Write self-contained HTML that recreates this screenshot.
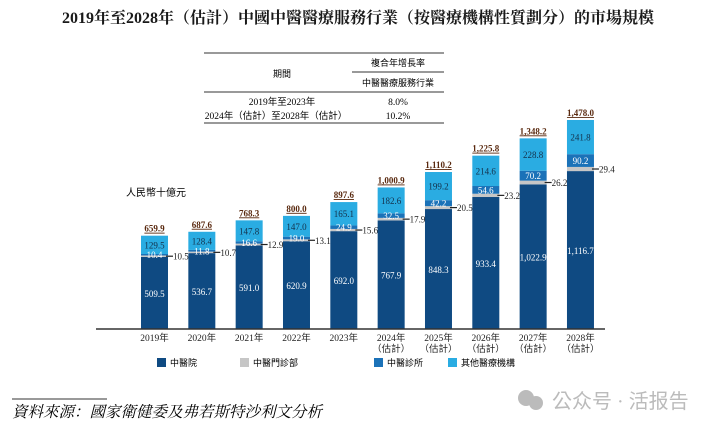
<!DOCTYPE html>
<html><head><meta charset="utf-8"><style>
body{margin:0;width:716px;height:429px;background:#fff;overflow:hidden;font-family:"Liberation Serif","Noto Serif CJK SC","Noto Sans CJK TC",serif;color:#222}
svg text{font-family:"Liberation Serif","Noto Sans CJK TC",serif}
</style></head><body>
<svg id="c" width="716" height="429">
<text x="358" y="23" text-anchor="middle" font-size="16" font-weight="bold" fill="#1a1a1a" style="font-family:'Liberation Serif','Noto Serif CJK SC',serif">2019年至2028年（估計）中國中醫醫療服務行業（按醫療機構性質劃分）的市場規模</text>
<g font-size="9.5">
<line x1="204" y1="53" x2="444" y2="53" stroke="#333"/>
<line x1="352" y1="72" x2="444" y2="72" stroke="#333"/>
<line x1="204" y1="92" x2="444" y2="92" stroke="#333"/>
<line x1="204" y1="123" x2="444" y2="123" stroke="#333"/>
<text x="398" y="66" text-anchor="middle" font-family="Noto Sans CJK TC" font-size="9">複合年增長率</text>
<text x="282" y="77" text-anchor="middle" font-family="Noto Sans CJK TC" font-size="9">期間</text>
<text x="398" y="86" text-anchor="middle" font-family="Noto Sans CJK TC" font-size="9">中醫醫療服務行業</text>
<text x="282" y="105" text-anchor="middle">2019年至2023年</text>
<text x="276" y="119" text-anchor="middle">2024年（估計）至2028年（估計）</text>
<text x="398" y="105" text-anchor="middle">8.0%</text>
<text x="398" y="119" text-anchor="middle">10.2%</text>
</g>
<text x="126" y="196" font-size="10" font-family="Noto Sans CJK TC">人民幣十億元</text>
<g id="bars"></g>
<line x1="96" y1="329" x2="605" y2="329" stroke="#333" stroke-width="1.5"/>
<g font-size="9" font-family="Noto Sans CJK TC">
<rect x="157" y="358" width="9" height="9" fill="#0f4a82"/><text x="170" y="366">中醫院</text>
<rect x="240" y="358" width="9" height="9" fill="#c6c6c6"/><text x="253" y="366">中醫門診部</text>
<rect x="374" y="358" width="9" height="9" fill="#1b72b8"/><text x="387" y="366">中醫診所</text>
<rect x="448" y="358" width="9" height="9" fill="#2aace2"/><text x="461" y="366">其他醫療機構</text>
</g>
<line x1="12" y1="399" x2="107" y2="399" stroke="#333"/>
<text x="12" y="417" font-size="15.5" font-style="italic" style="font-family:'Noto Serif CJK SC',serif">資料來源：國家衛健委及弗若斯特沙利文分析</text>
<g fill="#bbb">
<circle cx="526" cy="398" r="8"/><circle cx="536" cy="403" r="7"/>
<text x="552" y="408" font-size="20" font-family="Noto Sans CJK SC">公众号 · 活报告</text>
</g>
</svg>
<script>
const years=["2019年","2020年","2021年","2022年","2023年","2024年","2025年","2026年","2027年","2028年"];
const estimated=[false,false,false,false,false,true,true,true,true,true];
const hospital=[509.5,536.7,591.0,620.9,692.0,767.9,848.3,933.4,1022.9,1116.7];
const outpatient=[10.5,10.7,12.9,13.1,15.6,17.9,20.5,23.2,26.2,29.4];
const clinic=[10.4,11.8,16.6,19.0,24.9,32.5,42.2,54.6,70.2,90.2];
const other=[129.5,128.4,147.8,147.0,165.1,182.6,199.2,214.6,228.8,241.8];
const totals=["659.9","687.6","768.3","800.0","897.6","1,000.9","1,110.2","1,225.8","1,348.2","1,478.0"];
const hospLabels=["509.5","536.7","591.0","620.9","692.0","767.9","848.3","933.4","1,022.9","1,116.7"];
const NS="http://www.w3.org/2000/svg";
const base=329,scale=209/1478,x0=141,pitch=47.33,bw=27;
const y=v=>base-v*scale;
const xb=i=>x0+i*pitch;
const g=document.getElementById('bars');
function el(t,a,txt){const e=document.createElementNS(NS,t);for(const k in a)e.setAttribute(k,a[k]);if(txt!==undefined)e.textContent=txt;g.appendChild(e);return e;}
years.forEach((yr,i)=>{
  const x=xb(i);let acc=0;
  const segs=[[hospital[i],'#0f4a82','hospital'],[outpatient[i],'#c6c6c6','outpatient'],[clinic[i],'#1b72b8','clinic'],[other[i],'#2aace2','other']];
  const tops=[];
  segs.forEach(s=>{
    const r=el('rect',{x:x,y:y(acc+s[0]),width:bw,height:s[0]*scale,fill:s[1]});
    
    
    tops.push([y(acc+s[0]),y(acc)]);acc+=s[0];
  });
  const cx=x+bw/2;
  const a=el('text',{x:cx,y:(tops[0][0]+base)/2+4,'text-anchor':'middle','font-size':9,fill:'#fff'},hospLabels[i]);
  
  const om=(tops[1][0]+tops[1][1])/2;
  el('line',{x1:x+bw-2,y1:om,x2:x+bw+5,y2:om,stroke:'#222','stroke-width':1.2});
  const b=el('text',{x:x+bw+5,y:om+3.5,'font-size':9,fill:'#222'},outpatient[i].toFixed(1));
  
  const c=el('text',{x:cx,y:(tops[2][0]+tops[2][1])/2+3.5,'text-anchor':'middle','font-size':9,fill:'#fff'},clinic[i].toFixed(1));
  
  const d=el('text',{x:cx,y:(tops[3][0]+tops[3][1])/2+3.5,'text-anchor':'middle','font-size':9,fill:'#14304a'},other[i].toFixed(1));
  
  const t=el('text',{x:cx,y:tops[3][0]-4,'text-anchor':'middle','font-size':9,'font-weight':'bold',fill:'#5a2a10','text-decoration':'underline'},totals[i]);
  
  const xl=el('text',{x:cx,y:341,'text-anchor':'middle','font-size':9.5,fill:'#222'},yr);
  
  if(estimated[i]){const e2=el('text',{x:cx,y:352,'text-anchor':'middle','font-size':9.5,fill:'#222'},'（估計）');
  }
});
</script>
</body></html>
